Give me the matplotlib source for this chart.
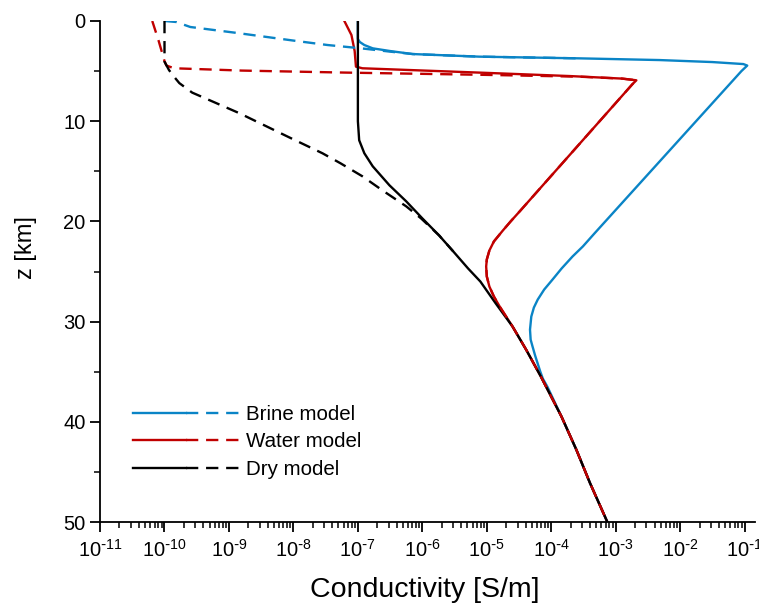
import numpy as np
import matplotlib
matplotlib.use("Agg")
import matplotlib.pyplot as plt
from matplotlib.legend_handler import HandlerTuple
from matplotlib.ticker import LogLocator, MultipleLocator, FuncFormatter

plt.rcParams['font.family'] = ['Liberation Sans', 'DejaVu Sans']
plt.rcParams['mathtext.default'] = 'regular'
plt.rcParams['axes.unicode_minus'] = False

# ---- data: depth z [km] and log10 conductivity [S/m] ----
deep_z   = [32.8, 35.5, 39.5, 42.8, 46.1, 50.0]
deep_log = [-4.39, -4.16, -3.84, -3.61, -3.40, -3.13]

dry_solid_z   = [0.0, 10.0, 11.9, 13.2, 14.5, 16.4, 18.0, 19.7, 21.4, 23.0, 24.7, 26.0, 28.2, 30.5] + deep_z
dry_solid_log = [-7.0, -7.0, -6.98, -6.90, -6.77, -6.51, -6.25, -6.0, -5.74, -5.52, -5.29, -5.10, -4.86, -4.60] + deep_log

dry_dash_z   = [0.0, 4.06, 4.9, 5.5, 6.2, 7.15, 9.2, 11.6, 13.2, 14.2, 15.5, 16.9, 18.5, 19.7, 21.4, 23.0]
dry_dash_log = [-10.0, -10.0, -9.93, -9.86, -9.77, -9.57, -8.84, -8.07, -7.55, -7.27, -6.93, -6.62, -6.25, -6.02, -5.74, -5.52]

water_solid_z   = [0.0, 1.4, 3.0, 4.56, 4.72, 5.19, 5.5, 5.75, 5.92, 6.3, 19.0, 20.0, 20.9, 22.0, 22.9, 23.8, 24.5,
                   25.5, 26.5, 27.5, 28.5, 29.5, 30.5] + deep_z
water_solid_log = [-7.21, -7.10, -7.05, -7.03, -6.93, -4.96, -3.70, -2.90, -2.68, -2.74, -4.49, -4.63, -4.75, -4.89,
                   -4.96, -5.0, -5.01, -5.0, -4.96, -4.89, -4.80, -4.70, -4.60] + deep_log

water_dash_z   = [0.0, 2.0, 4.0, 4.45, 4.72, 4.95, 5.15, 5.38, 5.56, 5.75, 5.92, 6.3, 19.0, 20.0, 20.9, 22.0, 22.9,
                  23.8, 24.5, 25.5, 26.5, 27.5, 28.5, 29.5, 30.5] + deep_z
water_dash_log = [-10.19, -10.09, -10.0, -9.97, -9.85, -8.80, -7.20, -5.0, -3.56, -2.90, -2.68, -2.74, -4.49, -4.63,
                  -4.75, -4.89, -4.96, -5.0, -5.01, -5.0, -4.96, -4.89, -4.80, -4.70, -4.60] + deep_log

brine_solid_z   = [0.0, 1.8, 2.1, 2.4, 2.73, 3.0, 3.3, 3.56, 3.73, 3.9, 4.1, 4.3, 4.45, 5.0, 21.2, 22.5, 23.5,
                   24.7, 25.8, 26.8, 27.8, 28.6, 29.5, 30.8, 31.8, 32.5, 33.4, 34.2, 35.0, 35.7, 36.5] + deep_z[2:]
brine_solid_log = [-7.0, -7.0, -6.97, -6.90, -6.77, -6.50, -6.15, -5.12, -3.56, -2.32, -1.50, -1.02, -0.96, -1.05,
                   -3.33, -3.51, -3.67, -3.84, -3.98, -4.11, -4.21, -4.27, -4.31, -4.33, -4.32, -4.29, -4.25, -4.21,
                   -4.17, -4.13, -4.06] + deep_log[2:]

brine_dash_z   = [0.0, 0.1, 0.6, 1.2, 2.0, 2.4, 2.73, 3.06, 3.3, 3.56, 3.73]
brine_dash_log = [-10.0, -9.82, -9.60, -8.87, -7.95, -7.47, -6.95, -6.50, -6.15, -5.12, -3.56]

labels = ["Brine model", "Water model", "Dry model"]
colors = ["#0a84c6", "#c00000", "#000000"]

# ---- figure ----
fig = plt.figure(figsize=(7.59, 6.08), dpi=100)
ax = fig.add_axes([0.1318, 0.1414, 0.8629, 0.8241])

lw = 1.7
dash = (5.2, 3.3)

def s(v):
    return 10.0 ** np.asarray(v)

b1, = ax.plot(s(brine_solid_log), brine_solid_z, color=colors[0], lw=lw, zorder=2.0)
w1, = ax.plot(s(water_solid_log), water_solid_z, color=colors[1], lw=lw, zorder=2.1)
d1, = ax.plot(s(dry_solid_log), dry_solid_z, color=colors[2], lw=lw, zorder=2.2)
b2, = ax.plot(s(brine_dash_log), brine_dash_z, color=colors[0], lw=lw, ls=(0, dash), zorder=2.3)
w2, = ax.plot(s(water_dash_log), water_dash_z, color=colors[1], lw=lw, ls=(0, dash), zorder=2.4)
d2, = ax.plot(s(dry_dash_log), dry_dash_z, color=colors[2], lw=lw, ls=(0, dash), zorder=2.5)

ax.set_xscale('log')
ax.set_xlim(1e-11, 10 ** -0.84)
ax.set_ylim(50, 0)

def fmt(v, pos):
    n = int(round(np.log10(v)))
    return r"$10^{\text{-}%d}$" % (-n) if n < 0 else r"$10^{%d}$" % n

ax.xaxis.set_major_locator(LogLocator(base=10, numticks=20))
ax.xaxis.set_major_formatter(FuncFormatter(fmt))
ax.xaxis.set_minor_locator(LogLocator(base=10, subs=np.arange(2, 10), numticks=200))
ax.yaxis.set_major_locator(MultipleLocator(10))
ax.yaxis.set_minor_locator(MultipleLocator(5))

for sp in ['top', 'right']:
    ax.spines[sp].set_visible(False)
for sp in ['left', 'bottom']:
    ax.spines[sp].set_linewidth(1.3)

ax.tick_params(which='major', direction='out', length=7, width=1.3, labelsize=14.5)
ax.tick_params(which='minor', direction='out', length=4, width=1.1)
ax.tick_params(axis='x', which='major', pad=5)

ax.set_xlabel("Conductivity [S/m]", fontsize=20.5)
ax.xaxis.set_label_coords(0.496, -0.136)
ax.xaxis.label.set_va('center')
ax.set_ylabel("z [km]", fontsize=17)
ax.yaxis.set_label_coords(-0.113, 0.547)
ax.yaxis.label.set_va('center')

handles = [(b1, b2), (w1, w2), (d1, d2)]
ax.legend(handles, labels, handler_map={tuple: HandlerTuple(ndivide=None, pad=0)},
          loc='upper left', bbox_to_anchor=(0.05, 0.234), frameon=False, fontsize=14.8,
          handlelength=5.2, handletextpad=0.3, labelspacing=0.42, borderpad=0, borderaxespad=0)

fig.savefig("out.png", dpi=100)
